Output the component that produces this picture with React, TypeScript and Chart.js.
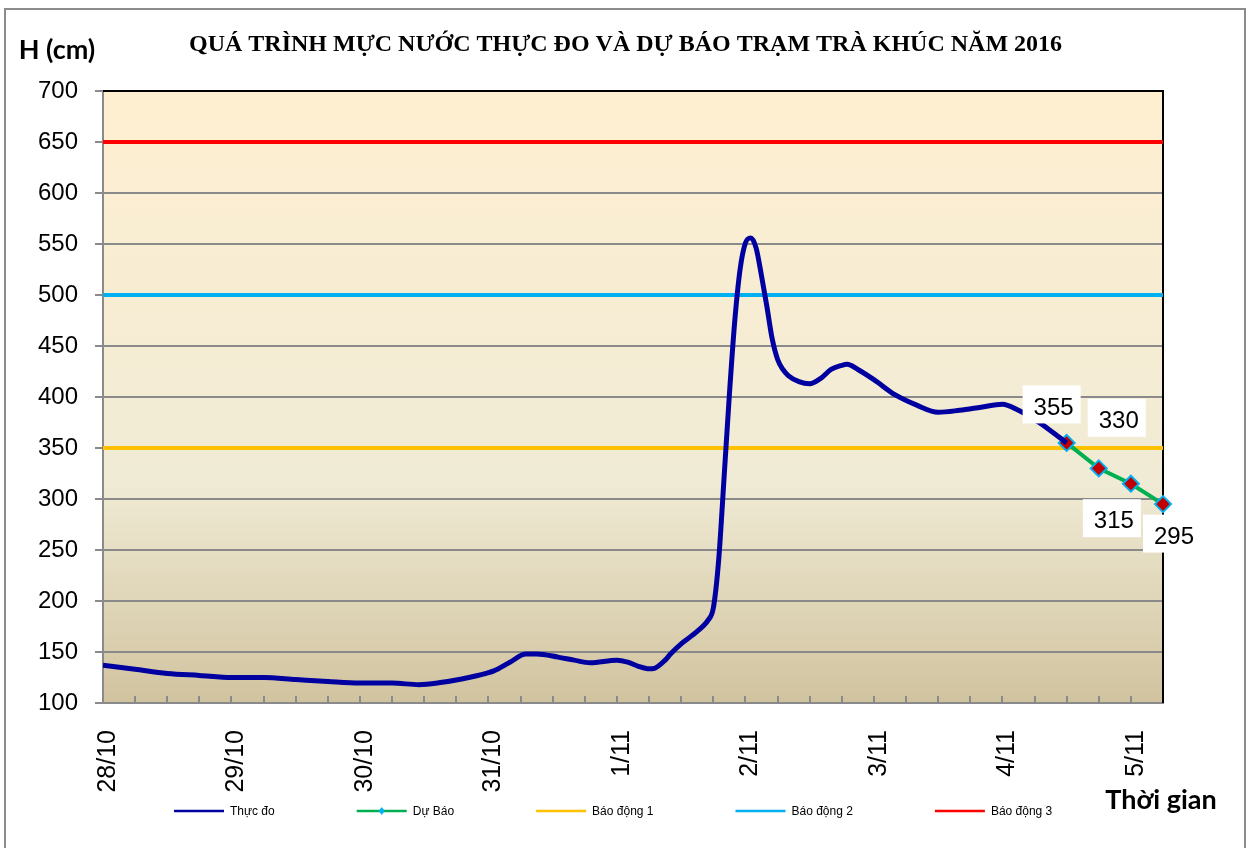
import React, { useEffect, useRef } from 'react';
import { Chart, registerables } from 'chart.js';

Chart.register(...registerables);

// ---------------- data ----------------
const TITLE = 'QUÁ TRÌNH MỰC NƯỚC THỰC ĐO VÀ DỰ BÁO TRẠM TRÀ KHÚC NĂM 2016';
const Y_TITLE = 'H (cm)';
const X_TITLE = 'Thời gian';

// day labels, one per 24 hours starting 28/10 00h
const DAY_LABELS = ['28/10', '29/10', '30/10', '31/10', '1/11', '2/11', '3/11', '4/11', '5/11'];

// observed water level (hours since 28/10 00h, cm)
const OBS_HOURS = [
  0, 6, 12, 18, 24, 30, 36, 42, 48, 54, 59, 63, 67, 70, 73, 76, 79, 81, 85, 88, 91, 96, 98, 100,
  102, 103, 105, 106, 108, 110, 112, 113, 114, 115, 116, 117, 118, 119, 120, 121, 122, 123, 124,
  125, 126, 127, 128, 130, 132, 134, 136, 138, 139, 141, 144, 148, 152, 156, 160, 164, 168, 171,
  174, 177, 180,
];
const OBS_VALUES = [
  137, 133, 129, 127, 125, 125, 123, 121, 119.5, 119.5, 118, 120, 123.5, 127, 131.5, 140, 148, 148,
  145, 142, 139.5, 142, 140, 136, 133.5, 134, 142, 148, 158, 166, 175, 181, 193, 240, 320, 402, 474,
  525, 551, 556, 546, 519, 489, 457, 437, 427, 421, 415, 413, 418, 427, 431, 432, 427, 417, 402, 392,
  385, 387, 390, 393, 387, 378, 367, 355,
];

// forecast
const FC_HOURS = [180, 186, 192, 198];
const FC_VALUES = [355, 330, 315, 295];

// alarm levels
const ALARM_LEVELS = [350, 500, 650];
const ALARM_NAMES = ['Báo động 1', 'Báo động 2', 'Báo động 3'];
const SERIES_NAMES = ['Thực đo', 'Dự Báo'];

const X_MIN = 0;
const X_MAX = 198;
const X_STEP = 6;
const HOURS_PER_DAY = 24;
const Y_MIN = 100;
const Y_MAX = 700;
const Y_STEP = 50;

// ---------------- styles ----------------
const OBS_COLOR = '#0000A0';
const FC_COLOR = '#00B050';
const ALARM_COLORS = ['#FFC000', '#00B0F0', '#FF0000'];
const GRID_COLOR = '#8a8a8a';
const LABEL_OFFSETS = [
  [-13, -35],
  [20, -47],
  [-17, 38],
  [11, 33],
];

const decorPlugin = {
  id: 'decor',
  beforeDraw(chart: any) {
    const { ctx, chartArea: a, width, height } = chart;
    ctx.save();
    ctx.fillStyle = '#ffffff';
    ctx.fillRect(0, 0, width, height);
    const g = ctx.createLinearGradient(0, a.top, 0, a.bottom);
    g.addColorStop(0, '#FFEFD1');
    g.addColorStop(0.64, '#F0EBD5');
    g.addColorStop(1, '#D1C39F');
    ctx.fillStyle = g;
    ctx.fillRect(a.left, a.top, a.right - a.left, a.bottom - a.top);
    ctx.strokeStyle = '#8c8c8c';
    ctx.lineWidth = 2;
    ctx.strokeRect(5, 9, 1240, height + 20);
    ctx.restore();
  },
  beforeDatasetsDraw(chart: any) {
    const { ctx, chartArea: a, scales } = chart;
    ctx.save();
    // inner tick marks on the x axis
    ctx.strokeStyle = GRID_COLOR;
    ctx.lineWidth = 2;
    const xs = scales.x;
    xs.ticks.forEach((t: any) => {
      const px = Math.round(xs.getPixelForValue(t.value));
      ctx.beginPath();
      ctx.moveTo(px, a.bottom);
      ctx.lineTo(px, a.bottom - 7);
      ctx.stroke();
    });
    // black top / right frame
    ctx.strokeStyle = '#000000';
    ctx.lineWidth = 2;
    ctx.beginPath();
    ctx.moveTo(a.left, a.top);
    ctx.lineTo(a.right, a.top);
    ctx.lineTo(a.right, a.bottom);
    ctx.stroke();
    ctx.restore();
  },
  afterDatasetsDraw(chart: any) {
    const { ctx } = chart;
    const meta = chart.getDatasetMeta(1);
    ctx.save();
    ctx.font = '24px "Liberation Sans", Arial, sans-serif';
    ctx.textAlign = 'center';
    ctx.textBaseline = 'middle';
    meta.data.forEach((pt: any, i: number) => {
      const [dx, dy] = LABEL_OFFSETS[i];
      const tx = pt.x + dx;
      const ty = pt.y + dy;
      ctx.fillStyle = '#ffffff';
      ctx.fillRect(tx - 2 - 29, ty - 3.5 - 19, 58, 38);
      ctx.fillStyle = '#000000';
      ctx.fillText(String(FC_VALUES[i]), tx, ty);
    });
    ctx.restore();
  },
  afterDraw(chart: any) {
    const { ctx } = chart;
    ctx.save();
    // axis titles
    ctx.fillStyle = '#000000';
    ctx.font = 'bold 27px Lato, sans-serif';
    ctx.textAlign = 'center';
    ctx.textBaseline = 'middle';
    ctx.fillText(Y_TITLE, 57, 50);
    ctx.fillText(X_TITLE, 1161, 800);
    // legend
    ctx.font = '12px "Liberation Sans", Arial, sans-serif';
    ctx.textAlign = 'left';
    let x = 174;
    const y = 811;
    chart.data.datasets.forEach((ds: any, i: number) => {
      ctx.strokeStyle = ds.borderColor;
      ctx.lineWidth = 2.5;
      ctx.beginPath();
      ctx.moveTo(x, y);
      ctx.lineTo(x + 50, y);
      ctx.stroke();
      if (i === 1) {
        ctx.fillStyle = '#00B0F0';
        ctx.beginPath();
        ctx.moveTo(x + 25, y - 4);
        ctx.lineTo(x + 28, y);
        ctx.lineTo(x + 25, y + 4);
        ctx.lineTo(x + 22, y);
        ctx.closePath();
        ctx.fill();
      }
      ctx.fillStyle = '#000000';
      ctx.fillText(ds.label, x + 56, y + 1);
      x += 56 + ctx.measureText(ds.label).width + 82;
    });
    ctx.restore();
  },
};

export default function App() {
  const canvasRef = useRef<HTMLCanvasElement | null>(null);

  useEffect(() => {
    if (!canvasRef.current) return;
    const obs = OBS_HOURS.map((h, i) => ({ x: h, y: OBS_VALUES[i] }));
    const fc = FC_HOURS.map((h, i) => ({ x: h, y: FC_VALUES[i] }));
    const alarms = ALARM_LEVELS.map((lvl, i) => ({
      label: ALARM_NAMES[i],
      data: [
        { x: X_MIN, y: lvl },
        { x: X_MAX, y: lvl },
      ],
      borderColor: ALARM_COLORS[i],
      backgroundColor: ALARM_COLORS[i],
      borderWidth: 4,
      pointRadius: 0,
      tension: 0,
    }));

    const chart = new Chart(canvasRef.current, {
      type: 'line',
      data: {
        datasets: [
          {
            label: SERIES_NAMES[0],
            data: obs,
            borderColor: OBS_COLOR,
            backgroundColor: OBS_COLOR,
            borderWidth: 5,
            pointRadius: 0,
            cubicInterpolationMode: 'monotone',
          },
          {
            label: SERIES_NAMES[1],
            data: fc,
            borderColor: FC_COLOR,
            backgroundColor: '#C00000',
            borderWidth: 4,
            pointStyle: 'rectRot',
            pointRadius: 8,
            pointBackgroundColor: '#C00000',
            pointBorderColor: '#00B0F0',
            pointBorderWidth: 2,
            tension: 0,
            clip: false,
          },
          ...alarms,
        ],
      } as any,
      options: {
        animation: false,
        responsive: true,
        maintainAspectRatio: false,
        layout: { padding: 0 },
        plugins: {
          legend: { display: false },
          tooltip: { enabled: false },
          title: {
            display: true,
            text: TITLE,
            color: '#000000',
            font: { family: '"Liberation Serif", "Times New Roman", serif', size: 24, weight: 'bold', lineHeight: 1.2 },
            padding: { top: 30, bottom: 32.2 },
          },
        },
        scales: {
          x: {
            type: 'linear',
            min: X_MIN,
            max: X_MAX,
            afterFit: (s: any) => {
              s.height = 145;
            },
            ticks: {
              stepSize: X_STEP,
              autoSkip: false,
              maxRotation: 90,
              minRotation: 90,
              padding: 27,
              labelOffset: 5,
              color: '#000000',
              font: { family: '"Liberation Sans", Arial, sans-serif', size: 25 },
              callback: (v: any) => {
                const h = Math.round(Number(v));
                return h % HOURS_PER_DAY === 0 ? DAY_LABELS[h / HOURS_PER_DAY] : '';
              },
            },
            grid: { drawOnChartArea: false, drawTicks: false },
            border: { display: true, color: GRID_COLOR, width: 2 },
          },
          y: {
            min: Y_MIN,
            max: Y_MAX,
            afterFit: (s: any) => {
              s.width = 103;
            },
            ticks: {
              stepSize: Y_STEP,
              padding: 17,
              color: '#000000',
              font: { family: '"Liberation Sans", Arial, sans-serif', size: 24 },
            },
            grid: { color: GRID_COLOR, lineWidth: 2, tickLength: 8 },
            border: { display: true, color: GRID_COLOR, width: 2 },
          },
          yRight: {
            position: 'right',
            display: true,
            afterFit: (s: any) => {
              s.width = 88;
            },
            ticks: { display: false },
            grid: { display: false },
            border: { display: false },
          },
        },
      } as any,
      plugins: [decorPlugin],
    });
    return () => chart.destroy();
  }, []);

  return (
    <div style={{ position: 'absolute', left: 0, top: 0, width: 1251, height: 848 }}>
      <canvas ref={canvasRef} />
    </div>
  );
}
